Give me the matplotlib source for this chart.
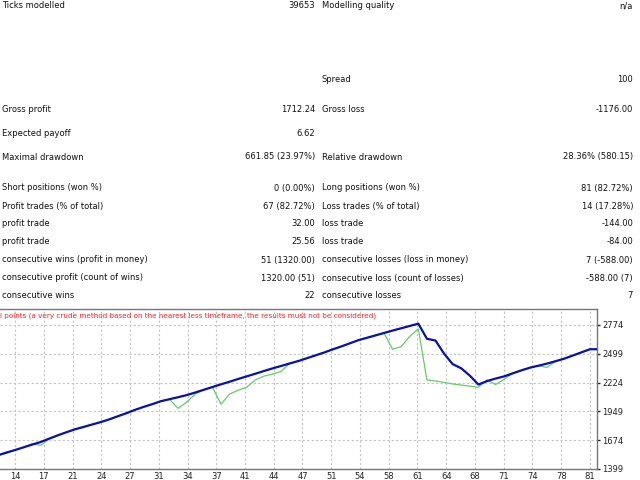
import matplotlib
matplotlib.use("Agg")
import matplotlib.pyplot as plt
import numpy as np

# report table (left label, left value, right label, right value)
labels_left = ["Ticks modelled", "", "Gross profit", "Expected payoff", "Maximal drawdown",
               "Short positions (won %)", "Profit trades (% of total)", "profit trade", "profit trade",
               "consecutive wins (profit in money)", "consecutive profit (count of wins)",
               "consecutive wins"]
values_left = ["39653", "", "1712.24", "6.62", "661.85 (23.97%)", "0 (0.00%)", "67 (82.72%)",
               "32.00", "25.56", "51 (1320.00)", "1320.00 (51)", "22"]
labels_right = ["Modelling quality", "Spread", "Gross loss", "", "Relative drawdown",
                "Long positions (won %)", "Loss trades (% of total)", "loss trade", "loss trade",
                "consecutive losses (loss in money)", "consecutive loss (count of losses)",
                "consecutive losses"]
values_right = ["n/a", "100", "-1176.00", "", "28.36% (580.15)", "81 (82.72%)", "14 (17.28%)",
                "-144.00", "-84.00", "7 (-588.00)", "-588.00 (7)", "7"]

# chart data, trades 12..82
trades = np.arange(12, 83)
balance = [1530, 1556, 1580, 1606, 1632, 1657, 1689, 1721, 1750, 1778,
           1801, 1824, 1847, 1873, 1903, 1932, 1964, 1992, 2018, 2046,
           2065, 2084, 2104, 2129, 2155, 2181, 2207, 2232, 2258, 2283,
           2308, 2334, 2359, 2382, 2406, 2429, 2456, 2483, 2510, 2540,
           2568, 2598, 2628, 2651, 2674, 2697, 2720, 2742, 2764, 2786,
           2642, 2625, 2500, 2400, 2360, 2290, 2205, 2238, 2262, 2283,
           2312, 2340, 2366, 2385, 2405, 2428, 2452, 2482, 2512, 2542,
           2542]
equity = [1530, 1548, 1580, 1606, 1640, 1625, 1689, 1721, 1750, 1778,
          1795, 1824, 1847, 1873, 1903, 1932, 1964, 1992, 2018, 2046,
          2065, 1978, 2036, 2115, 2155, 2181, 2017, 2115, 2150, 2180,
          2249, 2285, 2305, 2330, 2406, 2429, 2456, 2483, 2510, 2540,
          2568, 2598, 2628, 2651, 2674, 2697, 2542, 2567, 2665, 2736,
          2249, 2239, 2225, 2211, 2200, 2190, 2179, 2249, 2205, 2255,
          2312, 2340, 2366, 2385, 2368, 2428, 2452, 2482, 2512, 2542,
          2542]

y_ticks = [1399, 1674, 1949, 2224, 2499, 2774]
x_tick_labels = ["14", "17", "21", "24", "27", "31", "34", "37", "41", "44", "47",
                 "51", "54", "58", "61", "64", "68", "71", "74", "78", "81"]

W, H = 640, 480
fig = plt.figure(figsize=(6.4, 4.8), dpi=100)
plt.rcParams['font.family'] = ['DejaVu Sans']
fs = 6.0
txt_color = "#111111"

row_y = [6, 80, 109, 133, 157, 188, 206, 224, 242, 260, 278, 296]
for i, y in enumerate(row_y):
    yy = 1 - y / H
    fig.text(2 / W, yy, labels_left[i], ha="left", va="center", fontsize=fs, color=txt_color)
    fig.text(315 / W, yy, values_left[i], ha="right", va="center", fontsize=fs, color=txt_color)
    fig.text(322 / W, yy, labels_right[i], ha="left", va="center", fontsize=fs, color=txt_color)
    fig.text(633 / W, yy, values_right[i], ha="right", va="center", fontsize=fs, color=txt_color)

# chart axes
ax = fig.add_axes([0, 1 - 469 / H, 597 / W, 160 / H])
ax.plot(trades, equity, color="#66cc66", lw=0.9, zorder=3)
ax.plot(trades, balance, color="#0a10a8", lw=1.6, zorder=4)

ax.set_xlim(12.25, 81.82)
ax.set_ylim(1399, 2926)
ax.set_xticks(np.linspace(14, 81, 21))
ax.set_xticklabels(x_tick_labels)
ax.set_yticks(y_ticks)
ax.yaxis.tick_right()
ax.tick_params(axis="y", length=2, width=1, pad=2, labelsize=6, colors="#222222")
ax.tick_params(axis="x", length=0, pad=2, labelsize=6, colors="#222222")
ax.grid(True, color="#c4c4c4", linestyle=(0, (2, 2)), lw=0.8)
ax.spines["left"].set_visible(False)
for s in ["top", "right", "bottom"]:
    ax.spines[s].set_color("#777777")
    ax.spines[s].set_linewidth(1)

# the chart caption is cut at the left edge in the report
ax.text(0.0, (469 - 316) / 160,
        "l points (a very crude method based on the nearest less timeframe, "
        "the results must not be considered)",
        transform=ax.transAxes, ha="left", va="center", fontsize=5.25, color="#ff2020")

fig.savefig("out.png", dpi=100)
